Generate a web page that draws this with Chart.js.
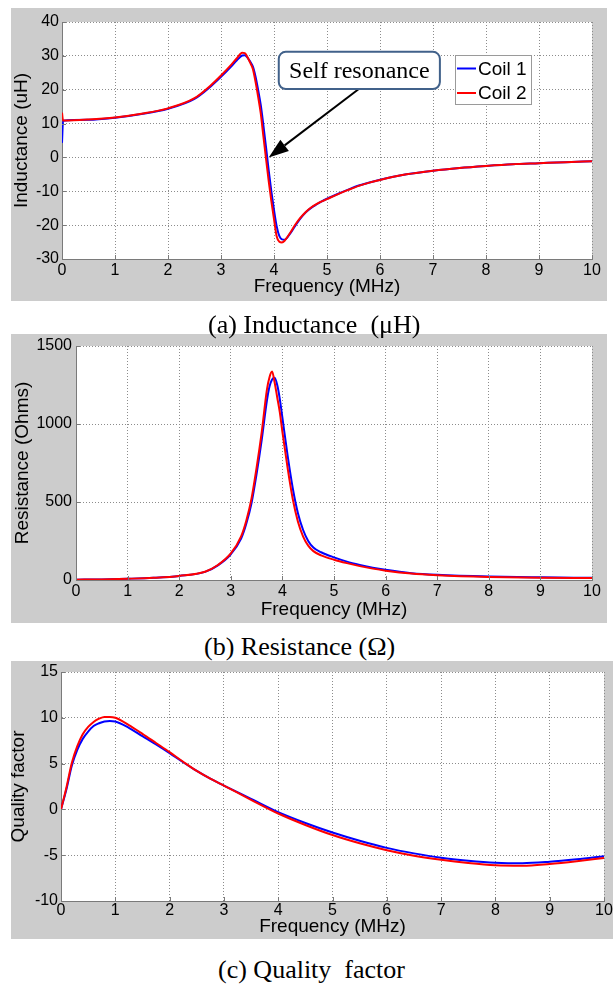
<!DOCTYPE html>
<html>
<head>
<meta charset="utf-8">
<script src="https://cdn.jsdelivr.net/npm/chart.js@4.4.1/dist/chart.umd.min.js"></script>
<style>
  html, body { margin: 0; padding: 0; background: #fff; }
  body { width: 613px; height: 986px; position: relative; overflow: hidden; }
  .panel { position: absolute; background: #cccccc; z-index: 1; }
  .panel canvas { display: block; }
  .caption {
    position: absolute;
    z-index: 2;
    font-family: "Liberation Serif", "Times New Roman", serif;
    font-size: 26px;
    line-height: 26px;
    color: #000;
    white-space: pre;
  }
</style>
</head>
<body>

<div class="panel" style="left:11px;top:8px;width:596px;height:293px">
  <canvas id="chart-inductance" width="596" height="293"></canvas>
</div>
<div class="caption" style="left:208px;top:312px">(a) Inductance  (μH)</div>

<div class="panel" style="left:11px;top:334px;width:596px;height:289px">
  <canvas id="chart-resistance" width="596" height="289"></canvas>
</div>
<div class="caption" style="left:204px;top:634px">(b) Resistance (Ω)</div>

<div class="panel" style="left:11px;top:661px;width:602px;height:278px">
  <canvas id="chart-quality" width="602" height="278"></canvas>
</div>
<div class="caption" style="left:218px;top:957px">(c) Quality  factor</div>

<script>
// coil measurement plots – inductance / resistance / quality factor
// values read off the reference figure

const SERIES_NAMES = ["Coil 1", "Coil 2"];
const X_TICKS = [0, 1, 2, 3, 4, 5, 6, 7, 8, 9, 10];

// (a) inductance, uH
const FREQ_L = [0, 0.02, 0.5, 1, 1.5, 2, 2.5, 2.8, 3.0, 3.2, 3.3, 3.4, 3.45, 3.5, 3.55, 3.6, 3.65, 3.7, 3.75,
  3.8, 3.85, 3.9, 3.95, 4.0, 4.05, 4.1, 4.15, 4.2, 4.3, 4.4, 4.5, 4.6, 4.7, 4.8, 4.9, 5.0, 5.2, 5.4, 5.6,
  5.8, 6.0, 6.5, 7.0, 7.5, 8.0, 8.5, 9.0, 9.5, 10];
const L_COIL1 = [4.3, 10.8, 11.1, 11.7, 12.8, 14.4, 17.3, 20.9, 23.8, 27.0, 28.7, 30.1, 30.2, 29.5, 28.3,
  26.9, 24.0, 20.0, 15.5, 9.5, 3.0, -3.8, -10.0, -15.5, -20.3, -23.2, -24.2, -24.3, -22.6, -20.2, -18.0,
  -16.2, -14.9, -13.9, -13.0, -12.2, -10.8, -9.5, -8.3, -7.4, -6.6, -5.0, -3.9, -3.1, -2.5, -2.0, -1.7,
  -1.4, -1.15];
const L_COIL2 = [13.2, 10.9, 11.2, 11.8, 12.9, 14.5, 17.5, 21.2, 24.2, 27.5, 29.3, 30.9, 30.8, 29.6, 28.0,
  26.2, 22.5, 18.0, 13.0, 6.2, -0.4, -7.0, -12.9, -18.2, -23.3, -24.9, -25.1, -24.6, -22.4, -19.9, -17.8,
  -16.1, -14.8, -13.8, -13.0, -12.3, -10.9, -9.6, -8.4, -7.45, -6.65, -5.0, -3.9, -3.1, -2.5, -2.0, -1.7,
  -1.4, -1.15];
const Y_TICKS_L = [-30, -20, -10, 0, 10, 20, 30, 40];

// (b) resistance, Ohms
const FREQ_R = [0, 0.5, 1, 1.5, 2, 2.5, 2.75, 3.0, 3.2, 3.3, 3.4, 3.5, 3.6, 3.7, 3.75, 3.8, 3.85, 3.9,
  3.95, 4.0, 4.1, 4.2, 4.3, 4.4, 4.5, 4.6, 4.75, 5.0, 5.25, 5.5, 5.75, 6.0, 6.5, 7.0, 8.0, 9.0, 10];
const R_COIL1 = [2, 4, 8, 14, 26, 52, 94, 165, 265, 360, 490, 680, 900, 1150, 1240, 1285, 1297, 1250,
  1160, 1040, 800, 590, 430, 322, 250, 208, 178, 145, 118, 97, 79, 65, 44, 33, 22, 17, 14];
const R_COIL2 = [2, 4, 8, 14, 26, 53, 96, 170, 280, 380, 520, 720, 950, 1220, 1300, 1336, 1265, 1170,
  1075, 950, 720, 520, 375, 280, 220, 185, 158, 130, 108, 89, 73, 60, 41, 31, 20, 15, 13];
const Y_TICKS_R = [0, 500, 1000, 1500];

// (c) quality factor
const FREQ_Q = [0, 0.1, 0.2, 0.3, 0.4, 0.5, 0.6, 0.7, 0.8, 0.9, 1.0, 1.25, 1.5, 1.75, 2.0, 2.25, 2.5, 2.75,
  3.0, 3.5, 4.0, 4.5, 5.0, 5.5, 6.0, 6.5, 7.0, 7.5, 8.0, 8.5, 9.0, 9.5, 10];
const Q_COIL1 = [0, 2.2, 4.8, 6.5, 7.7, 8.5, 9.1, 9.4, 9.6, 9.65, 9.6, 8.9, 8.0, 7.1, 6.15, 5.15, 4.2,
  3.35, 2.6, 1.15, -0.3, -1.48, -2.52, -3.42, -4.2, -4.8, -5.28, -5.6, -5.82, -5.88, -5.72, -5.45, -5.12];
const Q_COIL2 = [0, 2.4, 5.1, 6.9, 8.2, 9.0, 9.55, 9.9, 10.1, 10.1, 10.0, 9.2, 8.25, 7.25, 6.25, 5.2, 4.2,
  3.35, 2.6, 1.05, -0.45, -1.7, -2.8, -3.7, -4.45, -5.05, -5.5, -5.85, -6.1, -6.15, -5.95, -5.65, -5.3];
const Y_TICKS_Q = [-10, -5, 0, 5, 10, 15];

const SANS = "'Liberation Sans', Arial, sans-serif";
const SERIF = "'Liberation Serif', 'Times New Roman', serif";
const AXIS_GRAY = "#7a7a7a";

function toPoints(xs, ys) {
  return xs.map((x, i) => ({ x: x, y: ys[i] }));
}

// white plot area + MATLAB style inward ticks
const matlabAxes = {
  id: "matlabAxes",
  beforeDraw(chart) {
    const { ctx, chartArea: a } = chart;
    ctx.save();
    ctx.fillStyle = "#fff";
    ctx.fillRect(a.left, a.top, a.right - a.left, a.bottom - a.top);
    ctx.restore();
  },
  afterDraw(chart) {
    const { ctx, chartArea: a, scales } = chart;
    ctx.save();
    ctx.strokeStyle = AXIS_GRAY;
    ctx.lineWidth = 1;
    ctx.beginPath();
    scales.x.ticks.forEach(t => {
      const px = Math.round(scales.x.getPixelForValue(t.value)) + 0.5;
      ctx.moveTo(px, a.bottom);
      ctx.lineTo(px, a.bottom - 4);
    });
    scales.y.ticks.forEach(t => {
      const py = Math.round(scales.y.getPixelForValue(t.value)) + 0.5;
      ctx.moveTo(a.left, py);
      ctx.lineTo(a.left + 4, py);
    });
    ctx.stroke();
    ctx.restore();
  }
};

// legend box drawn like the MATLAB one (only on the first panel)
const boxLegend = {
  id: "boxLegend",
  afterDraw(chart) {
    const { ctx, chartArea: a } = chart;
    const w = 76, h = 49;
    const x = a.right - 61 - w, y = a.top + 33;
    ctx.save();
    ctx.fillStyle = "#fff";
    ctx.fillRect(x, y, w, h);
    ctx.strokeStyle = "#9a9a9a";
    ctx.lineWidth = 1;
    ctx.strokeRect(x + 0.5, y + 0.5, w, h);
    ctx.font = "19px " + SANS;
    ctx.textBaseline = "middle";
    ctx.fillStyle = "#000";
    chart.data.datasets.forEach((ds, i) => {
      const ry = y + 13.5 + i * 24.5;
      ctx.strokeStyle = ds.borderColor;
      ctx.lineWidth = 2;
      ctx.beginPath();
      ctx.moveTo(x + 2, ry);
      ctx.lineTo(x + 21, ry);
      ctx.stroke();
      ctx.fillText(ds.label, x + 23, ry + 1);
    });
    ctx.restore();
  }
};

// "Self resonance" call-out with arrow, placed in data units
const CALLOUT = { text: "Self resonance", x0: 4.09, x1: 7.13, yTop: 31.2, yBottom: 20.2, tailX: 5.6, tipX: 3.9, tipY: 0 };

const callout = {
  id: "callout",
  afterDraw(chart) {
    const { ctx, scales } = chart;
    const bx0 = scales.x.getPixelForValue(CALLOUT.x0);
    const bx1 = scales.x.getPixelForValue(CALLOUT.x1);
    const by0 = scales.y.getPixelForValue(CALLOUT.yTop);
    const by1 = scales.y.getPixelForValue(CALLOUT.yBottom);
    const tx = scales.x.getPixelForValue(CALLOUT.tailX);
    const px = scales.x.getPixelForValue(CALLOUT.tipX);
    const py = scales.y.getPixelForValue(CALLOUT.tipY);

    ctx.save();
    // arrow line + head
    const ang = Math.atan2(py - by1, px - tx);
    const headLen = 20, headHalf = 7;
    const hx = px - headLen * Math.cos(ang), hy = py - headLen * Math.sin(ang);
    ctx.strokeStyle = "#000";
    ctx.lineWidth = 2;
    ctx.beginPath();
    ctx.moveTo(tx, by1);
    ctx.lineTo(hx, hy);
    ctx.stroke();
    ctx.fillStyle = "#000";
    ctx.beginPath();
    ctx.moveTo(px, py);
    ctx.lineTo(hx + headHalf * Math.sin(ang), hy - headHalf * Math.cos(ang));
    ctx.lineTo(hx - headHalf * Math.sin(ang), hy + headHalf * Math.cos(ang));
    ctx.closePath();
    ctx.fill();

    // rounded box
    ctx.beginPath();
    ctx.roundRect(bx0, by0, bx1 - bx0, by1 - by0, 7);
    ctx.fillStyle = "#fff";
    ctx.fill();
    ctx.strokeStyle = "#41618a";
    ctx.lineWidth = 2;
    ctx.stroke();

    ctx.fillStyle = "#000";
    ctx.font = "24px " + SERIF;
    ctx.textAlign = "center";
    ctx.textBaseline = "middle";
    ctx.fillText(CALLOUT.text, (bx0 + bx1) / 2, (by0 + by1) / 2 + 1);
    ctx.restore();
  }
};

function makePanel(canvasId, cfg) {
  const ctx = document.getElementById(canvasId).getContext("2d");
  return new Chart(ctx, {
    type: "line",
    data: {
      datasets: [
        {
          label: SERIES_NAMES[0],
          data: toPoints(cfg.freq, cfg.coil1),
          borderColor: "#0000ff",
          borderWidth: 2,
          pointRadius: 0,
          cubicInterpolationMode: "monotone",
          order: 2
        },
        {
          label: SERIES_NAMES[1],
          data: toPoints(cfg.freq, cfg.coil2),
          borderColor: "#ff0000",
          borderWidth: 2,
          pointRadius: 0,
          cubicInterpolationMode: "monotone",
          order: 1
        }
      ]
    },
    options: {
      responsive: false,
      animation: false,
      layout: { padding: { left: 0, top: cfg.pad.top, right: cfg.pad.right, bottom: 0 } },
      plugins: {
        legend: { display: false },
        tooltip: { enabled: false }
      },
      scales: {
        x: {
          type: "linear",
          min: 0,
          max: 10,
          afterBuildTicks: s => { s.ticks = X_TICKS.map(v => ({ value: v })); },
          afterFit: s => { s.height = cfg.pad.bottom; s.paddingLeft = 0; s.paddingRight = 0; },
          grid: { color: "#8c8c8c", lineWidth: 1, drawTicks: false },
          border: { display: true, color: AXIS_GRAY, width: 1, dash: [1, 2] },
          ticks: {
            color: "#000",
            padding: cfg.xTickPad,
            maxRotation: 0,
            autoSkip: false,
            callback: v => String(v),
            font: { family: SANS, size: 16, lineHeight: 1 }
          },
          title: {
            display: true,
            text: "Frequency (MHz)",
            color: "#000",
            padding: { top: 0, bottom: cfg.xTitlePad },
            font: { family: SANS, size: 19, lineHeight: 1 }
          }
        },
        y: {
          type: "linear",
          min: cfg.yTicks[0],
          max: cfg.yTicks[cfg.yTicks.length - 1],
          afterBuildTicks: s => { s.ticks = cfg.yTicks.map(v => ({ value: v })); },
          afterFit: s => { s.width = cfg.pad.left; s.paddingTop = 0; s.paddingBottom = 0; },
          grid: { color: "#8c8c8c", lineWidth: 1, drawTicks: false },
          border: { display: true, color: AXIS_GRAY, width: 1, dash: [1, 2] },
          ticks: {
            color: "#000",
            padding: cfg.yTickPad,
            autoSkip: false,
            callback: v => String(v),
            font: { family: SANS, size: 16, lineHeight: 1 }
          },
          title: {
            display: true,
            text: cfg.yTitle,
            color: "#000",
            padding: { top: cfg.yTitlePad, bottom: 0 },
            font: { family: SANS, size: 19, lineHeight: 1 }
          }
        }
      }
    },
    plugins: [matlabAxes].concat(cfg.extra || [])
  });
}

makePanel("chart-inductance", {
  freq: FREQ_L, coil1: L_COIL1, coil2: L_COIL2, yTicks: Y_TICKS_L,
  yTitle: "Inductance (uH)",
  pad: { left: 51, top: 14, right: 15, bottom: 42 },
  xTickPad: 3.5, yTickPad: 3, xTitlePad: 4.5, yTitlePad: 1.5,
  extra: [callout, boxLegend]
});

makePanel("chart-resistance", {
  freq: FREQ_R, coil1: R_COIL1, coil2: R_COIL2, yTicks: Y_TICKS_R,
  yTitle: "Resistance (Ohms)",
  pad: { left: 65, top: 12, right: 15, bottom: 43 },
  xTickPad: 4, yTickPad: 4, xTitlePad: 3.5, yTitlePad: 2.5
});

makePanel("chart-quality", {
  freq: FREQ_Q, coil1: Q_COIL1, coil2: Q_COIL2, yTicks: Y_TICKS_Q,
  yTitle: "Quality factor",
  pad: { left: 50, top: 11, right: 9, bottom: 38 },
  xTickPad: 2, yTickPad: 3, xTitlePad: 2.5, yTitlePad: -2
});
</script>
</body>
</html>
